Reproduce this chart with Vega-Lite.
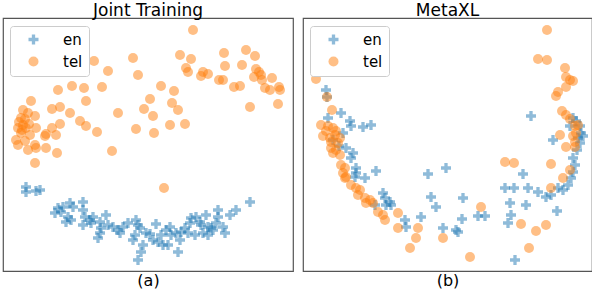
{
  "$schema": "https://vega.github.io/schema/vega-lite/v6.json",
  "padding": {"left": 2, "top": 1, "right": 0, "bottom": 0},
  "spacing": 8,
  "config": {
    "font": "DejaVu Sans",
    "view": {"stroke": "#555555", "strokeWidth": 1.2},
    "title": {"fontSize": 17, "fontWeight": "normal", "color": "#000000", "offset": -2},
    "legend": {
      "orient": "none", "legendX": 7, "legendY": 8,
      "fillColor": "#ffffff", "strokeColor": "#cccccc", "cornerRadius": 3,
      "padding": 6, "labelFontSize": 15, "labelColor": "#000000", "symbolSize": 100,
      "symbolOpacity": 0.5, "symbolOffset": 10, "labelOffset": 22, "rowPadding": 6, "symbolStrokeWidth": 0
    }
  },
  "resolve": {"legend": {"color": "independent", "shape": "independent"}},
  "datasets": {
    "a": [
      {"x":25,"y":187,"lang":"en"},{"x":25,"y":192,"lang":"en"},{"x":35,"y":191,"lang":"en"},{"x":39,"y":190,"lang":"en"},
      {"x":54,"y":213,"lang":"en"},{"x":57,"y":208,"lang":"en"},{"x":62,"y":207,"lang":"en"},{"x":60,"y":212,"lang":"en"},
      {"x":69,"y":203,"lang":"en"},{"x":72,"y":207,"lang":"en"},{"x":67,"y":217,"lang":"en"},{"x":70,"y":220,"lang":"en"},
      {"x":65,"y":222,"lang":"en"},{"x":82,"y":202,"lang":"en"},{"x":82,"y":210,"lang":"en"},{"x":84,"y":217,"lang":"en"},
      {"x":82,"y":225,"lang":"en"},{"x":89,"y":220,"lang":"en"},{"x":92,"y":217,"lang":"en"},{"x":90,"y":223,"lang":"en"},
      {"x":99,"y":222,"lang":"en"},{"x":100,"y":228,"lang":"en"},{"x":99,"y":233,"lang":"en"},{"x":105,"y":215,"lang":"en"},
      {"x":107,"y":225,"lang":"en"},{"x":97,"y":238,"lang":"en"},{"x":112,"y":227,"lang":"en"},{"x":117,"y":230,"lang":"en"},
      {"x":119,"y":233,"lang":"en"},{"x":122,"y":227,"lang":"en"},{"x":127,"y":223,"lang":"en"},{"x":135,"y":220,"lang":"en"},
      {"x":137,"y":225,"lang":"en"},{"x":139,"y":228,"lang":"en"},{"x":134,"y":235,"lang":"en"},{"x":132,"y":240,"lang":"en"},
      {"x":142,"y":245,"lang":"en"},{"x":140,"y":252,"lang":"en"},{"x":137,"y":260,"lang":"en"},{"x":145,"y":233,"lang":"en"},
      {"x":149,"y":234,"lang":"en"},{"x":155,"y":224,"lang":"en"},{"x":157,"y":242,"lang":"en"},{"x":160,"y":235,"lang":"en"},
      {"x":165,"y":230,"lang":"en"},{"x":169,"y":227,"lang":"en"},{"x":167,"y":245,"lang":"en"},{"x":170,"y":235,"lang":"en"},
      {"x":177,"y":252,"lang":"en"},{"x":175,"y":233,"lang":"en"},{"x":179,"y":240,"lang":"en"},{"x":180,"y":232,"lang":"en"},
      {"x":184,"y":228,"lang":"en"},{"x":187,"y":233,"lang":"en"},{"x":189,"y":223,"lang":"en"},{"x":190,"y":218,"lang":"en"},
      {"x":195,"y":217,"lang":"en"},{"x":199,"y":222,"lang":"en"},{"x":200,"y":225,"lang":"en"},{"x":194,"y":235,"lang":"en"},
      {"x":202,"y":233,"lang":"en"},{"x":205,"y":215,"lang":"en"},{"x":207,"y":227,"lang":"en"},{"x":212,"y":230,"lang":"en"},
      {"x":217,"y":210,"lang":"en"},{"x":217,"y":217,"lang":"en"},{"x":215,"y":223,"lang":"en"},{"x":222,"y":227,"lang":"en"},
      {"x":224,"y":233,"lang":"en"},{"x":229,"y":215,"lang":"en"},{"x":235,"y":210,"lang":"en"},{"x":249,"y":202,"lang":"en"},
      {"x":152,"y":240,"lang":"en"},{"x":162,"y":245,"lang":"en"},{"x":207,"y":235,"lang":"en"},{"x":210,"y":228,"lang":"en"},
      {"x":192,"y":30,"lang":"tel"},{"x":93,"y":61,"lang":"tel"},{"x":132,"y":58,"lang":"tel"},{"x":107,"y":71,"lang":"tel"},
      {"x":137,"y":75,"lang":"tel"},{"x":179,"y":55,"lang":"tel"},{"x":190,"y":59,"lang":"tel"},{"x":185,"y":68,"lang":"tel"},
      {"x":187,"y":72,"lang":"tel"},{"x":202,"y":72,"lang":"tel"},{"x":200,"y":76,"lang":"tel"},{"x":207,"y":74,"lang":"tel"},
      {"x":223,"y":53,"lang":"tel"},{"x":224,"y":66,"lang":"tel"},{"x":218,"y":80,"lang":"tel"},{"x":222,"y":80,"lang":"tel"},
      {"x":241,"y":65,"lang":"tel"},{"x":245,"y":50,"lang":"tel"},{"x":254,"y":56,"lang":"tel"},{"x":255,"y":69,"lang":"tel"},
      {"x":258,"y":72,"lang":"tel"},{"x":260,"y":75,"lang":"tel"},{"x":253,"y":77,"lang":"tel"},{"x":261,"y":80,"lang":"tel"},
      {"x":271,"y":78,"lang":"tel"},{"x":264,"y":88,"lang":"tel"},{"x":269,"y":90,"lang":"tel"},{"x":278,"y":87,"lang":"tel"},
      {"x":279,"y":90,"lang":"tel"},{"x":233,"y":87,"lang":"tel"},{"x":239,"y":86,"lang":"tel"},{"x":249,"y":107,"lang":"tel"},
      {"x":277,"y":104,"lang":"tel"},{"x":160,"y":86,"lang":"tel"},{"x":173,"y":91,"lang":"tel"},{"x":171,"y":103,"lang":"tel"},
      {"x":177,"y":110,"lang":"tel"},{"x":149,"y":99,"lang":"tel"},{"x":143,"y":109,"lang":"tel"},{"x":152,"y":116,"lang":"tel"},
      {"x":169,"y":125,"lang":"tel"},{"x":184,"y":124,"lang":"tel"},{"x":153,"y":133,"lang":"tel"},{"x":135,"y":129,"lang":"tel"},
      {"x":117,"y":113,"lang":"tel"},{"x":101,"y":87,"lang":"tel"},{"x":83,"y":88,"lang":"tel"},{"x":71,"y":86,"lang":"tel"},
      {"x":57,"y":90,"lang":"tel"},{"x":85,"y":101,"lang":"tel"},{"x":69,"y":113,"lang":"tel"},{"x":59,"y":107,"lang":"tel"},
      {"x":51,"y":109,"lang":"tel"},{"x":79,"y":121,"lang":"tel"},{"x":85,"y":126,"lang":"tel"},{"x":96,"y":132,"lang":"tel"},
      {"x":59,"y":124,"lang":"tel"},{"x":51,"y":128,"lang":"tel"},{"x":45,"y":134,"lang":"tel"},
      {"x":55,"y":135,"lang":"tel"},{"x":44,"y":136,"lang":"tel"},
      {"x":30,"y":101,"lang":"tel"},{"x":22,"y":110,"lang":"tel"},{"x":20,"y":118,"lang":"tel"},{"x":27,"y":113,"lang":"tel"},
      {"x":34,"y":116,"lang":"tel"},{"x":22,"y":125,"lang":"tel"},{"x":17,"y":128,"lang":"tel"},{"x":25,"y":128,"lang":"tel"},
      {"x":35,"y":128,"lang":"tel"},{"x":20,"y":133,"lang":"tel"},{"x":29,"y":135,"lang":"tel"},{"x":15,"y":140,"lang":"tel"},
      {"x":24,"y":141,"lang":"tel"},{"x":34,"y":145,"lang":"tel"},{"x":18,"y":122,"lang":"tel"},{"x":24,"y":119,"lang":"tel"},
      {"x":21,"y":130,"lang":"tel"},{"x":28,"y":124,"lang":"tel"},{"x":17,"y":145,"lang":"tel"},{"x":27,"y":150,"lang":"tel"},
      {"x":35,"y":148,"lang":"tel"},{"x":45,"y":148,"lang":"tel"},{"x":56,"y":153,"lang":"tel"},{"x":34,"y":163,"lang":"tel"},
      {"x":111,"y":151,"lang":"tel"},{"x":163,"y":188,"lang":"tel"}
    ],
    "b": [
      {"x":323,"y":90,"lang":"en"},{"x":324,"y":97,"lang":"en"},{"x":338,"y":113,"lang":"en"},{"x":347,"y":121,"lang":"en"},
      {"x":348,"y":126,"lang":"en"},{"x":360,"y":127,"lang":"en"},{"x":368,"y":125,"lang":"en"},{"x":325,"y":118,"lang":"en"},
      {"x":340,"y":133,"lang":"en"},{"x":343,"y":148,"lang":"en"},{"x":350,"y":153,"lang":"en"},{"x":348,"y":158,"lang":"en"},
      {"x":353,"y":168,"lang":"en"},{"x":353,"y":173,"lang":"en"},{"x":352,"y":177,"lang":"en"},{"x":362,"y":178,"lang":"en"},
      {"x":373,"y":171,"lang":"en"},{"x":380,"y":193,"lang":"en"},{"x":382,"y":198,"lang":"en"},{"x":387,"y":202,"lang":"en"},
      {"x":388,"y":205,"lang":"en"},{"x":383,"y":205,"lang":"en"},{"x":372,"y":205,"lang":"en"},{"x":402,"y":220,"lang":"en"},
      {"x":403,"y":227,"lang":"en"},{"x":418,"y":217,"lang":"en"},{"x":425,"y":174,"lang":"en"},{"x":443,"y":168,"lang":"en"},
      {"x":428,"y":197,"lang":"en"},{"x":433,"y":207,"lang":"en"},{"x":440,"y":228,"lang":"en"},{"x":460,"y":198,"lang":"en"},
      {"x":459,"y":219,"lang":"en"},{"x":453,"y":230,"lang":"en"},{"x":455,"y":232,"lang":"en"},{"x":475,"y":216,"lang":"en"},
      {"x":482,"y":216,"lang":"en"},{"x":507,"y":203,"lang":"en"},{"x":508,"y":215,"lang":"en"},{"x":505,"y":223,"lang":"en"},
      {"x":523,"y":205,"lang":"en"},{"x":502,"y":188,"lang":"en"},{"x":511,"y":188,"lang":"en"},{"x":520,"y":174,"lang":"en"},
      {"x":525,"y":188,"lang":"en"},{"x":535,"y":192,"lang":"en"},{"x":543,"y":197,"lang":"en"},{"x":548,"y":195,"lang":"en"},
      {"x":555,"y":188,"lang":"en"},{"x":560,"y":190,"lang":"en"},{"x":565,"y":185,"lang":"en"},{"x":568,"y":178,"lang":"en"},
      {"x":570,"y":172,"lang":"en"},{"x":572,"y":165,"lang":"en"},{"x":570,"y":158,"lang":"en"},{"x":554,"y":211,"lang":"en"},
      {"x":512,"y":260,"lang":"en"},{"x":528,"y":116,"lang":"en"},{"x":570,"y":118,"lang":"en"},{"x":573,"y":121,"lang":"en"},
      {"x":577,"y":126,"lang":"en"},{"x":567,"y":126,"lang":"en"},{"x":578,"y":133,"lang":"en"},{"x":575,"y":138,"lang":"en"},
      {"x":577,"y":143,"lang":"en"},{"x":580,"y":136,"lang":"en"},{"x":550,"y":140,"lang":"en"},{"x":574,"y":150,"lang":"en"},
      {"x":330,"y":140,"lang":"en"},{"x":336,"y":146,"lang":"en"},
      {"x":313,"y":79,"lang":"tel"},{"x":324,"y":97,"lang":"tel"},{"x":329,"y":110,"lang":"tel"},{"x":318,"y":125,"lang":"tel"},
      {"x":325,"y":126,"lang":"tel"},{"x":330,"y":128,"lang":"tel"},{"x":333,"y":131,"lang":"tel"},{"x":320,"y":136,"lang":"tel"},
      {"x":327,"y":138,"lang":"tel"},{"x":337,"y":138,"lang":"tel"},{"x":332,"y":135,"lang":"tel"},{"x":323,"y":131,"lang":"tel"},
      {"x":328,"y":142,"lang":"tel"},{"x":335,"y":143,"lang":"tel"},{"x":328,"y":148,"lang":"tel"},{"x":333,"y":150,"lang":"tel"},
      {"x":330,"y":153,"lang":"tel"},{"x":337,"y":155,"lang":"tel"},{"x":338,"y":165,"lang":"tel"},{"x":342,"y":168,"lang":"tel"},
      {"x":340,"y":173,"lang":"tel"},{"x":343,"y":177,"lang":"tel"},{"x":342,"y":178,"lang":"tel"},{"x":348,"y":185,"lang":"tel"},
      {"x":353,"y":188,"lang":"tel"},{"x":357,"y":190,"lang":"tel"},{"x":355,"y":195,"lang":"tel"},{"x":362,"y":198,"lang":"tel"},
      {"x":363,"y":203,"lang":"tel"},{"x":367,"y":200,"lang":"tel"},{"x":370,"y":203,"lang":"tel"},{"x":375,"y":212,"lang":"tel"},
      {"x":380,"y":215,"lang":"tel"},{"x":382,"y":220,"lang":"tel"},{"x":395,"y":213,"lang":"tel"},{"x":395,"y":228,"lang":"tel"},
      {"x":415,"y":228,"lang":"tel"},{"x":413,"y":238,"lang":"tel"},{"x":407,"y":248,"lang":"tel"},{"x":440,"y":238,"lang":"tel"},
      {"x":478,"y":207,"lang":"tel"},{"x":467,"y":257,"lang":"tel"},{"x":502,"y":162,"lang":"tel"},{"x":511,"y":163,"lang":"tel"},
      {"x":548,"y":164,"lang":"tel"},{"x":518,"y":224,"lang":"tel"},{"x":533,"y":231,"lang":"tel"},{"x":543,"y":225,"lang":"tel"},
      {"x":526,"y":248,"lang":"tel"},{"x":548,"y":188,"lang":"tel"},{"x":560,"y":178,"lang":"tel"},{"x":567,"y":170,"lang":"tel"},
      {"x":563,"y":147,"lang":"tel"},{"x":572,"y":147,"lang":"tel"},{"x":544,"y":30,"lang":"tel"},{"x":535,"y":59,"lang":"tel"},
      {"x":544,"y":60,"lang":"tel"},{"x":562,"y":68,"lang":"tel"},{"x":563,"y":77,"lang":"tel"},{"x":567,"y":80,"lang":"tel"},
      {"x":570,"y":81,"lang":"tel"},{"x":563,"y":87,"lang":"tel"},{"x":555,"y":92,"lang":"tel"},{"x":553,"y":96,"lang":"tel"},
      {"x":559,"y":111,"lang":"tel"},{"x":563,"y":115,"lang":"tel"},{"x":567,"y":119,"lang":"tel"},{"x":572,"y":126,"lang":"tel"},
      {"x":575,"y":125,"lang":"tel"},{"x":573,"y":133,"lang":"tel"},{"x":570,"y":136,"lang":"tel"},{"x":572,"y":142,"lang":"tel"},
      {"x":557,"y":135,"lang":"tel"}
    ]
  },
  "hconcat": [
    {
      "title": "Joint Training",
      "width": 290, "height": 253,
      "data": {"name": "a"},
      "mark": {"type": "point", "filled": true, "opacity": 0.5, "size": 100, "strokeWidth": 0},
      "encoding": {
        "x": {"field": "x", "type": "quantitative", "scale": {"domain": [2, 292], "nice": false, "zero": false},
              "axis": {"title": "(a)", "domain": false, "ticks": false, "labels": false, "grid": false, "titleFontSize": 16, "titleFontWeight": "normal", "titleColor": "#000000", "titlePadding": 1}},
        "y": {"field": "y", "type": "quantitative", "scale": {"domain": [18, 271], "nice": false, "zero": false, "reverse": true}, "axis": null},
        "color": {"field": "lang", "type": "nominal", "scale": {"domain": ["en", "tel"], "range": ["#1f77b4", "#ff7f0e"]}, "legend": {"title": null}},
        "shape": {"field": "lang", "type": "nominal", "scale": {"domain": ["en", "tel"], "range": ["M-1,-0.33H-0.33V-1H0.33V-0.33H1V0.33H0.33V1H-0.33V0.33H-1Z", "circle"]}, "legend": {"title": null}},
        "order": {"field": "lang", "sort": "ascending"}
      }
    },
    {
      "title": "MetaXL",
      "width": 289, "height": 253,
      "data": {"name": "b"},
      "mark": {"type": "point", "filled": true, "opacity": 0.5, "size": 100, "strokeWidth": 0},
      "encoding": {
        "x": {"field": "x", "type": "quantitative", "scale": {"domain": [300, 589], "nice": false, "zero": false},
              "axis": {"title": "(b)", "domain": false, "ticks": false, "labels": false, "grid": false, "titleFontSize": 16, "titleFontWeight": "normal", "titleColor": "#000000", "titlePadding": 1}},
        "y": {"field": "y", "type": "quantitative", "scale": {"domain": [18, 271], "nice": false, "zero": false, "reverse": true}, "axis": null},
        "color": {"field": "lang", "type": "nominal", "scale": {"domain": ["en", "tel"], "range": ["#1f77b4", "#ff7f0e"]}, "legend": {"title": null}},
        "shape": {"field": "lang", "type": "nominal", "scale": {"domain": ["en", "tel"], "range": ["M-1,-0.33H-0.33V-1H0.33V-0.33H1V0.33H0.33V1H-0.33V0.33H-1Z", "circle"]}, "legend": {"title": null}},
        "order": {"field": "lang", "sort": "ascending"}
      }
    }
  ]
}
